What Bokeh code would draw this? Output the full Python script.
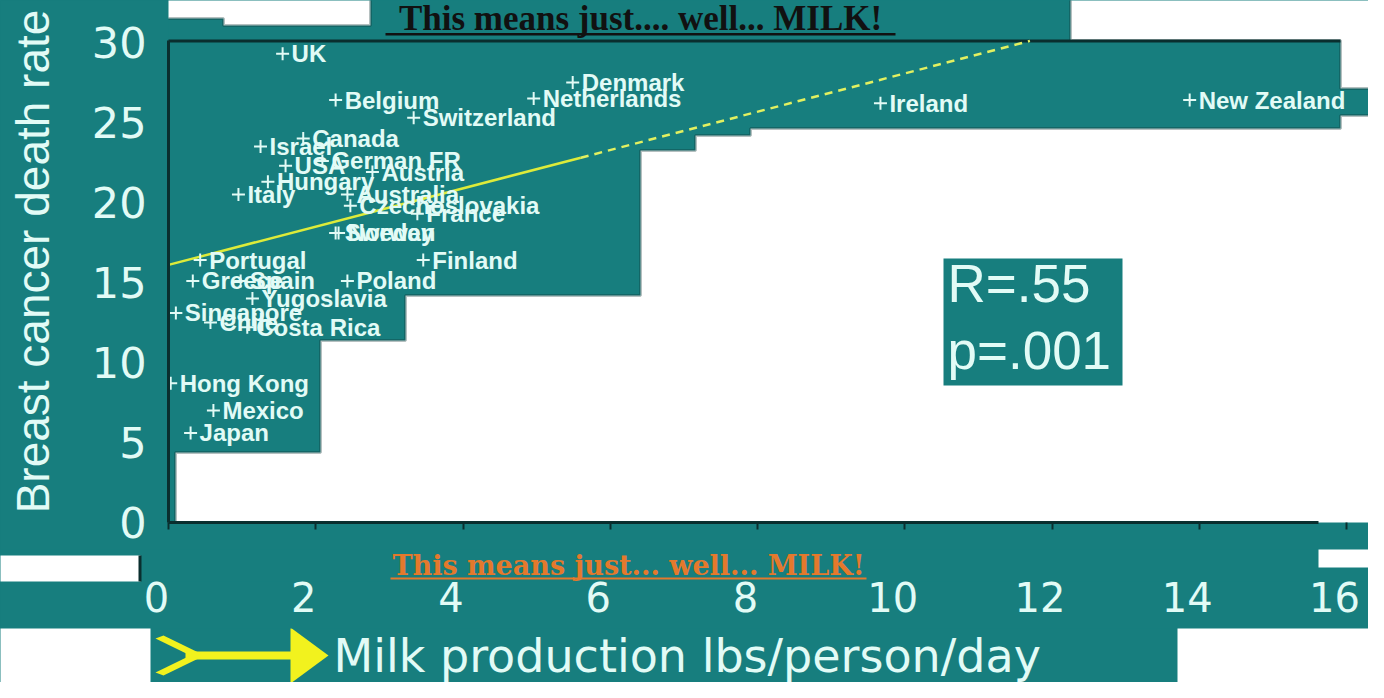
from bokeh.plotting import figure
from bokeh.layouts import column
from bokeh.models import Range1d, Label, BoxAnnotation, PolyAnnotation, FixedTicker
from bokeh.embed import file_html
from bokeh.resources import INLINE
from bokeh.core.properties import value

# ---------------- data ----------------
countries = ["UK", "Belgium", "Switzerland", "Netherlands", "Denmark", "Ireland",
             "New Zealand", "Israel", "Canada", "USA", "German FR", "Austria",
             "Hungary", "Italy", "Australia", "Czechoslovakia", "France", "Sweden",
             "Norway", "Finland", "Portugal", "Greece", "Spain", "Poland",
             "Yugoslavia", "Singapore", "Chile", "Costa Rica", "Hong Kong",
             "Mexico", "Japan"]
milk = [1.55, 2.27, 3.33, 4.96, 5.49, 9.67,
        13.87, 1.25, 1.83, 1.59, 2.09, 2.77,
        1.35, 0.95, 2.43, 2.47, 3.38, 2.27,
        2.31, 3.46, 0.43, 0.33, 0.98, 2.43,
        1.14, 0.10, 0.57, 1.07, 0.03,
        0.61, 0.30]
rate = [29.3, 26.4, 25.3, 26.5, 27.5, 26.2,
        26.4, 23.5, 24.0, 22.3, 22.6, 21.9,
        21.3, 20.5, 20.5, 19.8, 19.3, 18.1,
        18.1, 16.4, 16.4, 15.1, 15.1, 15.1,
        14.0, 13.1, 12.5, 12.2, 8.7,
        7.0, 5.6]
trend_solid_x = [0.0, 5.6]
trend_solid_y = [16.1, 22.8]
trend_dash_x = [5.6, 11.7]
trend_dash_y = [22.8, 30.1]
x_ticks = [0, 2, 4, 6, 8, 10, 12, 14, 16]
y_ticks = [0, 5, 10, 15, 20, 25, 30]
stats_text = ["R=.55", "p=.001"]
x_title = "Milk production lbs/person/day"
y_title = "Breast cancer death rate"
note_text = "This means just... well... MILK!"
top_text = "This means just.... well... MILK!"

# ---------------- style / layout ----------------
TEAL = "#177E7E"
DARK = "#0A2E2E"
LIGHT = "#E2FBF6"
ORANGE = "#E4792C"
YEL = "#F2F21E"
BIG_FONT = "DejaVu Sans"
W = 1368
XS = 73.625            # px per x unit
YS = 16.0              # px per y unit
X0, Y0 = 168, 522      # pixel position of the origin
XL, XR = -X0 / XS, (W - X0) / XS
SHIFT = 12 / XS        # tick labels sit a little left of their ticks in the slide
B1, FB2, B2, HT = 549, 581, 628, 682   # strip boundaries (page pixels)

def dx(rx):
    return (rx - X0) / XS

def common(fig):
    fig.outline_line_color = None
    fig.grid.visible = False
    fig.frame_align = False
    return fig

def poly(fig, fx, fy, pts, color="white", line=DARK, lw=3, level="underlay"):
    fig.add_layout(PolyAnnotation(xs=[fx(a) for a, b in pts], ys=[fy(b) for a, b in pts],
                                  fill_color=color, fill_alpha=1.0, line_color=line,
                                  line_width=lw, level=level))

def box(fig, fx, fy, l, t, r, b, color, level="underlay"):
    fig.add_layout(BoxAnnotation(left=fx(l), right=fx(r), top=fy(t), bottom=fy(b),
                                 fill_color=color, fill_alpha=1.0, line_color=None,
                                 level=level))

# ====== main plot ======
H1 = B1
p = figure(width=W, height=H1, output_backend="svg", toolbar_location=None,
           x_range=Range1d(0, XR), y_range=Range1d(0, Y0 / YS),
           min_border_left=X0, min_border_right=0, min_border_top=0,
           min_border_bottom=H1 - Y0,
           background_fill_color=TEAL, border_fill_color=TEAL)
common(p)

def dy(ry):
    return (Y0 - ry) / YS

# white patches of the slide inside the main plot area
poly(p, dx, dy, [(150, -20), (370, -20), (370, 25), (223, 25), (223, 18), (150, 18)])
poly(p, dx, dy, [(1070, -20), (1400, -20), (1400, 88), (1340, 88), (1340, 40), (1070, 40)])
poly(p, dx, dy, [(175, 540), (175, 452), (320, 452), (320, 340), (405, 340), (405, 295),
                 (640, 295), (640, 150), (695, 150), (695, 135), (750, 135), (750, 128),
                 (1340, 128), (1340, 115), (1400, 115), (1400, 540)])
box(p, dx, dy, 150, 39, 1340, 42, DARK)
# stats box
box(p, dx, dy, 943, 258, 1122, 385, TEAL)
for txt, ry in zip(stats_text, (283, 350)):
    p.add_layout(Label(x=dx(947), y=dy(ry), text=txt, text_baseline="middle",
                       text_font="Liberation Sans", text_font_size="53px", text_color=LIGHT))

# black title at the top
p.add_layout(Label(x=dx(640), y=dy(18), text=top_text, text_align="center",
                   text_baseline="middle", text_font="Liberation Serif",
                   text_font_style="bold", text_font_size="35px", text_color="#111111"))
box(p, dx, dy, 385, 32.5, 895, 35, "#111111", level="annotation")

# trend line
p.line(trend_solid_x, trend_solid_y, line_color="#DDEB3A", line_width=2.5)
p.line(trend_dash_x, trend_dash_y, line_color="#E2F060", line_width=2.5, line_dash="8 6")

# points and labels
p.scatter(milk, rate, marker="cross", size=13, line_color=LIGHT, line_width=2)
p.text(x=milk, y=rate, text=countries, x_offset=9, text_baseline="middle",
       text_align="left", text_font=value("Liberation Sans"), text_font_style="bold",
       text_font_size="24px", text_color=LIGHT)

# axes of the main plot
p.xaxis.ticker = FixedTicker(ticks=x_ticks)
p.yaxis.ticker = FixedTicker(ticks=y_ticks)
for ax in (p.xaxis, p.yaxis):
    ax.axis_line_color = DARK
    ax.axis_line_width = 3
    ax.minor_tick_line_color = None
    ax.major_label_text_color = LIGHT
    ax.major_label_text_font = BIG_FONT
p.xaxis.bounds = (0, dx(1318))
p.yaxis.bounds = (0, dy(40))
p.xaxis.major_tick_line_color = DARK
p.xaxis.major_tick_line_width = 2
p.xaxis.major_tick_in = 0
p.xaxis.major_tick_out = 7
p.xaxis.major_label_text_font_size = "1px"
p.xaxis.major_label_overrides = {t: "" for t in x_ticks}
p.xaxis.major_label_standoff = 0

p.yaxis.major_tick_line_color = None
p.yaxis.major_tick_in = 0
p.yaxis.major_tick_out = 0
p.yaxis.major_label_text_font_size = "43px"
p.yaxis.major_label_standoff = 22
p.yaxis.axis_label = y_title
p.yaxis.axis_label_text_font_size = "46px"
p.yaxis.axis_label_text_font = "Liberation Sans"
p.yaxis.axis_label_text_font_style = "normal"
p.yaxis.axis_label_text_color = LIGHT
p.yaxis.axis_label_standoff = 30

# ====== middle strip: note + x tick labels ======
H2 = B2 - B1
F2 = FB2 - B1      # frame height of the strip
p2 = figure(width=W, height=H2, output_backend="svg", toolbar_location=None,
            x_range=Range1d(XL + SHIFT, XR + SHIFT), y_range=Range1d(F2, 0),
            y_axis_location=None,
            min_border_left=0, min_border_right=0, min_border_top=0,
            min_border_bottom=H2 - F2,
            background_fill_color=TEAL, border_fill_color=TEAL)
common(p2)

def dx2(rx):
    return dx(rx) + SHIFT

def dy2(ry):
    return ry - B1

poly(p2, dx2, dy2, [(-20, 555), (140, 555), (140, 600), (-20, 600)], line=None, lw=0)
box(p2, dx2, dy2, 138, 555, 141, 600, DARK)
poly(p2, dx2, dy2, [(1318, 520), (1400, 520), (1400, 567), (1318, 567)], line=None, lw=0)
p2.add_layout(Label(x=dx2(628), y=dy2(565), text=note_text, text_align="center",
                    text_baseline="middle", text_font="DejaVu Serif",
                    text_font_style="bold", text_font_size="27px", text_color=ORANGE))
box(p2, dx2, dy2, 390, 577, 866, 579, ORANGE, level="annotation")

p2.xaxis.ticker = FixedTicker(ticks=x_ticks)
p2.xaxis.axis_line_color = None
p2.xaxis.major_tick_line_color = None
p2.xaxis.minor_tick_line_color = None
p2.xaxis.major_tick_in = 0
p2.xaxis.major_tick_out = 0
p2.xaxis.major_label_standoff = 0
p2.xaxis.major_label_text_font = BIG_FONT
p2.xaxis.major_label_text_font_size = "40px"
p2.xaxis.major_label_text_color = LIGHT

# ====== bottom strip: arrow + axis title ======
H3 = HT - B2
p3 = figure(width=W, height=H3, output_backend="svg", toolbar_location=None,
            x_range=Range1d(XL, XR), y_range=Range1d(H3, 0),
            x_axis_location=None, y_axis_location=None,
            min_border_left=0, min_border_right=0, min_border_top=0, min_border_bottom=0,
            background_fill_color=TEAL, border_fill_color=TEAL)
common(p3)

def dy3(ry):
    return ry - B2

box(p3, dx, dy3, -20, 600, 150, 720, "white", level="annotation")
box(p3, dx, dy3, 1177, 600, 1400, 720, "white", level="annotation")

def patch(pts):
    p3.patch([dx(a) for a, b in pts], [dy3(b) for a, b in pts],
             fill_color=YEL, line_color=None)

patch([(290, 627), (328, 655), (290, 683)])
patch([(185, 651), (292, 651), (292, 659), (185, 659)])
patch([(155, 638), (163, 635), (200, 653), (194, 657)])
patch([(155, 672), (163, 675), (200, 657), (194, 653)])
p3.text(x=[dx(333)], y=[dy3(655)], text=[x_title], text_align="left",
        text_baseline="middle", text_font=value(BIG_FONT),
        text_font_size="46px", text_color=LIGHT)

layout = column(p, p2, p3, spacing=0, styles={"background-color": TEAL})
open("out.html", "w").write(file_html(layout, INLINE))
